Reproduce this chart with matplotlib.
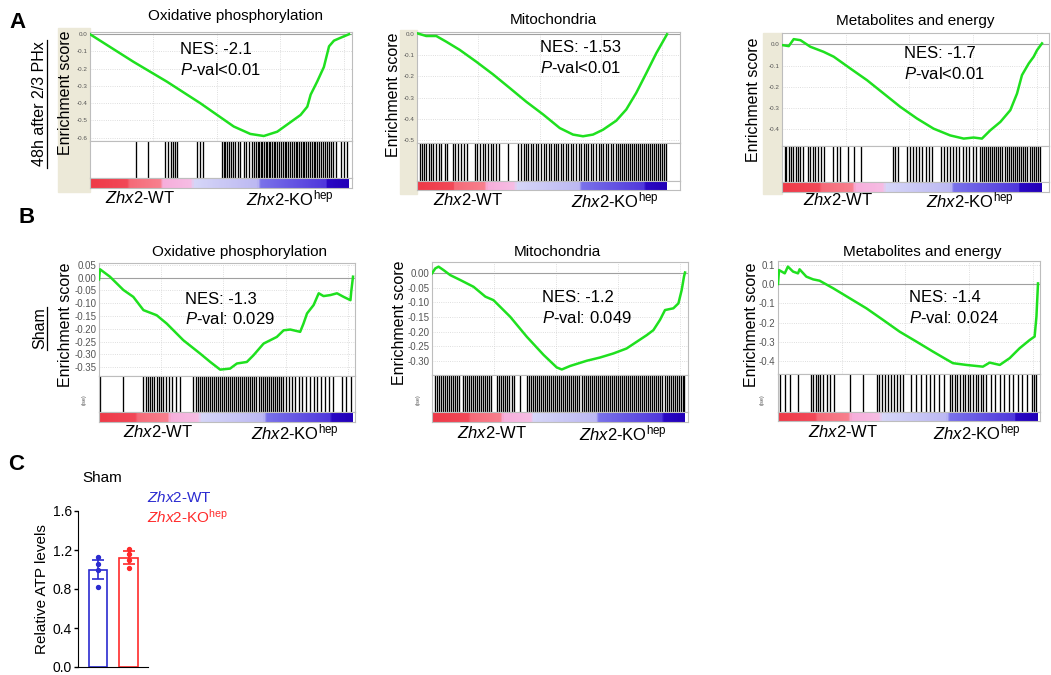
import numpy as np
import matplotlib
matplotlib.use('Agg')
import matplotlib.pyplot as plt
from matplotlib.colors import LinearSegmentedColormap
from matplotlib.patches import Rectangle
from matplotlib.lines import Line2D
from matplotlib.ticker import FormatStrFormatter

plt.rcParams['font.family'] = 'Liberation Sans'
plt.rcParams['mathtext.fontset'] = 'custom'
plt.rcParams['mathtext.rm'] = 'Liberation Sans'
plt.rcParams['mathtext.it'] = 'Liberation Sans:italic'

W, H = 1051, 675

# --- running enrichment score curves (x = % of ranked list) ---
a1_x = [0, 16.8, 29.7, 42.6, 55.5, 61.9, 67.1, 72.3, 77.4, 81.3, 83.9, 85.2, 87.7, 90.3, 92.3, 94.2, 96.8, 100]
a1_es = [0.0, -0.16, -0.275, -0.40, -0.535, -0.578, -0.59, -0.565, -0.51, -0.468, -0.42, -0.35, -0.275, -0.19,
         -0.07, -0.037, -0.02, 0.0]

a2_x = [0, 3.7, 7.7, 11.7, 17.1, 23.7, 30.4, 37.1, 43.7, 50.4, 57.1, 62.4, 66.4, 70.4, 74.4, 79.7, 83.7, 87.7,
        91.7, 95.7, 100]
a2_es = [0.005, -0.008, -0.008, -0.035, -0.074, -0.13, -0.19, -0.255, -0.32, -0.38, -0.445, -0.476, -0.484,
         -0.476, -0.453, -0.41, -0.357, -0.278, -0.185, -0.09, 0.0]

a3_x = [0, 2.6, 4.5, 7.1, 10.9, 16.0, 19.9, 26.3, 32.7, 39.1, 45.5, 51.9, 58.3, 64.7, 69.9, 73.7, 76.9, 80.1,
        84.0, 87.8, 90.4, 92.3, 94.9, 96.8, 98.1, 100]
a3_es = [-0.003, -0.008, 0.025, 0.02, -0.011, -0.035, -0.058, -0.114, -0.169, -0.232, -0.295, -0.35, -0.398,
         -0.43, -0.445, -0.44, -0.445, -0.406, -0.366, -0.311, -0.232, -0.145, -0.09, -0.058, -0.027, 0.005]

b1_x = [0, 0.4, 4.3, 9.6, 13.5, 17.5, 22.7, 26.7, 33.2, 39.8, 43.8, 47.7, 51.6, 54.3, 58.2, 60.8, 64.8, 70.0,
        72.7, 75.3, 79.2, 80.5, 81.9, 84.5, 86.5, 88.4, 91.1, 93.7, 96.3, 99.0, 99.3, 100]
b1_es = [-0.007, 0.033, 0.004, -0.048, -0.075, -0.127, -0.147, -0.18, -0.245, -0.297, -0.33, -0.36, -0.356,
         -0.336, -0.33, -0.304, -0.258, -0.232, -0.206, -0.203, -0.212, -0.18, -0.14, -0.107, -0.061, -0.072,
         -0.068, -0.061, -0.075, -0.088, -0.055, 0.004]

b2_x = [0, 1.3, 2.6, 4.6, 7.2, 11.2, 16.4, 21.1, 24.3, 30.9, 37.5, 44.1, 49.3, 51.3, 54.6, 61.2, 66.4, 71.7,
        76.9, 80.9, 84.9, 87.5, 90.1, 92.1, 95.4, 97.4, 98.7, 99.6, 100]
b2_es = [0.0, 0.017, 0.023, 0.011, -0.006, -0.023, -0.046, -0.08, -0.092, -0.149, -0.218, -0.28, -0.323, -0.33,
         -0.318, -0.30, -0.289, -0.275, -0.258, -0.235, -0.212, -0.195, -0.16, -0.126, -0.12, -0.103, -0.057,
         -0.011, 0.003]

b3_x = [0, 0.4, 2.6, 3.8, 5.8, 7.7, 8.3, 10.9, 13.5, 16.0, 21.2, 27.6, 34.0, 40.4, 46.8, 53.2, 59.6, 64.7,
        67.3, 72.4, 78.8, 81.4, 85.3, 89.1, 92.9, 96.8, 98.7, 99.4, 100]
b3_es = [0.0, 0.072, 0.055, 0.09, 0.064, 0.055, 0.076, 0.038, 0.024, 0.017, -0.022, -0.074, -0.126, -0.186,
         -0.247, -0.298, -0.35, -0.39, -0.41, -0.419, -0.428, -0.407, -0.419, -0.384, -0.333, -0.29, -0.272,
         -0.169, 0.003]

# --- gene set hits (% of ranked list) ---
a1_hits = [17.7, 22.3, 28.8, 30.3, 31.2, 32.0, 32.9, 33.7, 41.3, 42.3, 43.5, 51.0, 51.6, 52.2, 52.9, 53.5, 54.4,
           55.2, 56.0, 57.1, 58.0, 59.3, 60.2, 61.5, 62.6, 63.5, 64.2, 64.8, 65.4, 66.0, 66.6, 67.2, 67.8, 68.4,
           69.0, 69.6, 70.3, 71.0, 71.6, 72.3, 73.0, 73.6, 74.4, 75.1, 75.8, 76.5, 77.2, 78.0, 78.7, 79.4, 80.0,
           80.7, 81.4, 82.1, 82.8, 83.5, 84.2, 84.9, 85.6, 86.3, 87.0, 87.7, 88.5, 89.2, 89.9, 90.7, 91.5, 92.3,
           93.1, 94.0, 94.8, 96.8, 98.1, 99.4]
a2_hits = [1.0, 1.8, 2.6, 3.5, 4.6, 5.4, 6.5, 7.4, 8.6, 9.5, 11.0, 12.0, 14.2, 15.1, 16.3, 17.5, 18.6, 20.0,
           23.0, 24.1, 25.0, 26.2, 27.0, 28.3, 29.5, 30.5, 31.6, 32.8, 36.5, 40.5, 41.5, 42.6, 43.4, 44.5, 45.6,
           46.4, 47.5, 48.5, 49.4, 50.6, 51.5, 52.6, 53.5, 54.6, 55.4, 56.5, 57.6, 58.5, 59.6, 60.5, 61.6, 62.5,
           63.5, 64.6, 65.5, 66.6, 67.5, 68.4, 69.6, 70.5, 71.5, 72.6, 73.4, 74.5, 75.6, 76.5, 77.5, 78.5, 79.5,
           80.4, 81.2, 82.0, 82.8, 83.6, 84.4, 85.2, 86.0, 86.8, 87.6, 88.4, 89.2, 90.0, 90.8, 91.6, 92.4, 93.2,
           94.0, 94.8, 95.6, 96.4, 97.2, 98.0, 98.8, 99.6]
a3_hits = [1.0, 1.7, 2.5, 3.4, 4.3, 5.3, 6.2, 7.1, 8.0, 10.0, 10.9, 11.8, 12.8, 13.9, 15.0, 16.3, 19.8, 21.0,
           22.2, 25.5, 27.8, 30.3, 42.5, 43.6, 44.8, 48.0, 49.2, 50.4, 51.5, 52.8, 54.0, 55.2, 56.5, 57.8, 61.0,
           62.2, 63.3, 64.5, 65.7, 67.0, 68.2, 69.5, 70.7, 72.0, 73.3, 74.6, 76.0, 76.8, 77.6, 78.4, 79.2, 80.0,
           80.8, 81.6, 82.4, 83.2, 84.0, 84.8, 85.6, 86.4, 87.2, 88.0, 88.8, 89.6, 90.4, 91.2, 92.0, 92.8, 93.6,
           94.4, 95.2, 96.0, 96.8, 97.6, 98.4, 99.2]
b1_hits = [0.4, 9.6, 17.5, 18.4, 19.2, 20.1, 21.0, 21.8, 22.7, 23.6, 24.5, 25.3, 26.2, 27.5, 28.8, 30.3, 31.8,
           37.2, 38.0, 38.8, 39.6, 40.4, 41.2, 42.0, 42.8, 43.6, 44.4, 45.2, 46.0, 46.8, 47.6, 48.4, 49.2, 50.0,
           50.8, 51.6, 52.4, 53.2, 54.0, 54.8, 55.6, 56.4, 57.2, 58.0, 58.8, 59.6, 60.4, 61.2, 62.0, 62.8, 63.6,
           64.4, 65.2, 66.0, 66.8, 67.6, 68.4, 69.2, 70.0, 70.8, 71.6, 72.4, 73.5, 74.8, 76.0, 77.3, 78.6, 80.0,
           81.5, 83.0, 84.5, 86.0, 87.5, 89.0, 90.5, 92.0, 95.5, 97.4, 99.3]
b2_hits = [1.0, 1.8, 2.6, 3.4, 4.2, 5.0, 5.8, 6.6, 7.4, 8.2, 9.0, 9.8, 10.6, 12.3, 13.1, 13.9, 14.7, 15.5, 16.3,
           17.1, 17.9, 18.7, 19.5, 20.3, 21.1, 21.9, 22.7, 23.5, 25.5, 26.3, 27.1, 27.9, 28.7, 29.5, 30.5, 31.5,
           32.5, 34.8, 37.5, 38.3, 39.1, 39.9, 40.7, 41.5, 42.3, 43.1, 43.9, 44.7, 45.5, 46.3, 47.1, 47.9, 48.7,
           49.5, 50.3, 51.1, 51.9, 52.7, 53.5, 54.3, 55.1, 55.9, 56.7, 57.5, 58.3, 59.1, 59.9, 60.7, 61.5, 62.3,
           63.1, 63.9, 64.7, 65.5, 66.3, 67.1, 67.9, 68.7, 69.5, 70.3, 71.1, 71.9, 72.7, 73.5, 74.3, 75.1, 75.9,
           76.7, 77.5, 78.3, 79.1, 79.9, 80.7, 81.5, 82.3, 83.1, 83.9, 84.7, 85.5, 86.3, 87.1, 87.9, 88.7, 89.5,
           90.3, 91.1, 91.9, 92.7, 93.5, 94.3, 95.1, 95.9, 96.7, 97.5, 98.3, 99.1, 99.8]
b3_hits = [0.6, 2.6, 4.5, 7.7, 12.8, 13.6, 14.5, 15.4, 16.2, 17.3, 18.8, 20.0, 21.4, 27.5, 32.5, 38.0, 39.0,
           40.0, 41.2, 42.3, 43.5, 44.6, 45.8, 47.0, 48.2, 51.0, 53.0, 55.0, 57.0, 58.5, 60.0, 62.0, 64.0, 66.0,
           67.0, 68.0, 69.0, 70.0, 71.0, 72.0, 73.0, 74.0, 75.0, 76.0, 77.0, 78.0, 79.0, 80.0, 81.8, 83.5, 85.2,
           87.0, 88.8, 90.5, 92.3, 94.0, 95.8, 97.5, 98.5, 99.3]

titles = ['Oxidative phosphorylation', 'Mitochondria', 'Metabolites and energy']
a_nes = ['-2.1', '-1.53', '-1.7']
a_pval = ['<0.01', '<0.01', '<0.01']
b_nes = ['-1.3', '-1.2', '-1.4']
b_pval = [': 0.029', ': 0.049', ': 0.024']

# --- panel C: relative ATP levels (Sham) ---
groups = ['Zhx2-WT', 'Zhx2-KOhep']
atp_mean = [1.00, 1.12]
atp_sem = [0.097, 0.065]
atp_wt = [1.13, 1.06, 0.99, 0.82]
atp_ko = [1.21, 1.16, 1.10, 1.02]

WT_LABEL = r'$\mathit{Zhx2}$-WT'
KO_LABEL = r'$\mathit{Zhx2}$-KO$^{\mathrm{hep}}$'
GREEN = '#1fe01f'
BLUE = '#2b2bd0'
RED = '#ff2a2a'
BEIGE = '#ece9d8'

fig = plt.figure(figsize=(W / 100, H / 100), dpi=100)


def px_ax(x0, y0, x1, y1):
    return fig.add_axes([x0 / W, 1 - y1 / H, (x1 - x0) / W, (y1 - y0) / H])


def px_text(x, y, s, **kw):
    return fig.text(x / W, 1 - y / H, s, **kw)


rank_cmap = LinearSegmentedColormap.from_list('rank', [
    (0.0, '#ee3a48'), (0.14, '#f24858'), (0.15, '#f56a78'), (0.27, '#f8808e'),
    (0.28, '#f7aedb'), (0.39, '#f6bde4'), (0.40, '#d6d6f8'), (0.65, '#bcb8f2'),
    (0.66, '#7a72ea'), (0.91, '#5038dc'), (0.92, '#2a08c4'), (1.0, '#2200b8')])
grad = np.linspace(0, 1, 300).reshape(1, -1)


def draw_gsea(xs, es, hits, box, ylim, ystep, fmt, tfs):
    left, end, right, top, es_bot, hit_bot, cb_bot = box
    xmax = 100 * (right - left) / (end - left)
    ax = px_ax(left, top, right, es_bot)
    ax.plot(xs, es, color=GREEN, lw=1.8, zorder=3)
    ax.axhline(0, color='#a0a0a0', lw=0.8)
    ax.set_xlim(0, xmax)
    ax.set_ylim(*ylim)
    ax.yaxis.set_major_locator(plt.MultipleLocator(ystep))
    ax.yaxis.set_major_formatter(FormatStrFormatter(fmt))
    ax.set_xticks([24.5, 49, 73.5, 98])
    ax.tick_params(length=0, pad=2, labelbottom=False, labelsize=tfs, labelcolor='#555555')
    ax.grid(True, color='#d4d4d4', lw=0.6, ls=':')
    for s in ax.spines.values():
        s.set_color('#bdbdbd')
        s.set_linewidth(0.8)

    hx = px_ax(left, es_bot, right, hit_bot)
    hx.vlines(hits, 0, 1, color='black', lw=0.95)
    hx.set_xlim(0, xmax)
    hx.set_ylim(0, 1)
    hx.set_xticks([])
    hx.set_yticks([])
    for s in hx.spines.values():
        s.set_color('#bdbdbd')
        s.set_linewidth(0.8)

    cx = px_ax(left, hit_bot, right, cb_bot)
    cx.imshow(grad, aspect='auto', cmap=rank_cmap, extent=(0, 100, 0, 1), interpolation='nearest')
    cx.set_xlim(0, xmax)
    cx.set_ylim(0, 1)
    cx.set_xticks([])
    cx.set_yticks([])
    for s in cx.spines.values():
        s.set_color('#bdbdbd')
        s.set_linewidth(0.8)


# beige strips of the GSEA desktop panels (row A)
for x0, y0, x1, y1 in [(58, 28, 90, 192), (400, 30, 417, 194), (763, 33, 782, 194)]:
    fig.add_artist(Rectangle((x0 / W, 1 - y1 / H), (x1 - x0) / W, (y1 - y0) / H,
                             transform=fig.transFigure, color=BEIGE, zorder=0))

# row A
draw_gsea(a1_x, a1_es, a1_hits, (90, 349, 352, 32, 141, 178, 188), (-0.619, 0.013), 0.1, '%.1f', 4.5)
draw_gsea(a2_x, a2_es, a2_hits, (417, 667, 680, 32, 143, 181, 190), (-0.516, 0.011), 0.1, '%.1f', 4.5)
draw_gsea(a3_x, a3_es, a3_hits, (782, 1042, 1049, 33, 146, 182, 192), (-0.48, 0.054), 0.1, '%.1f', 4.5)
# row B
draw_gsea(b1_x, b1_es, b1_hits, (99, 353, 355, 263, 376, 412, 422), (-0.385, 0.0576), 0.05, '%.2f', 7)
draw_gsea(b2_x, b2_es, b2_hits, (432, 685, 688, 262, 375, 412, 422), (-0.349, 0.039), 0.05, '%.2f', 7)
draw_gsea(b3_x, b3_es, b3_hits, (778, 1038, 1040, 261, 374, 412, 421), (-0.466, 0.119), 0.1, '%.1f', 7)

title_pos = [(235, 16), (553, 20), (915, 21), (240, 252), (557, 252), (922, 252)]
nes_pos = [(180, 50), (540, 48), (904, 54), (185, 299), (542, 298), (909, 298)]
es_lab_pos = [(65, 93), (393, 95), (753, 100), (65, 325), (399, 323), (752, 325)]
grp_pos = [(140, 290, 198), (468, 615, 200), (838, 970, 200), (158, 295, 432), (492, 623, 433), (843, 977, 432)]
nes_all = a_nes + b_nes
pval_all = a_pval + b_pval

for i in range(6):
    tx, ty = title_pos[i]
    px_text(tx, ty, titles[i % 3], fontsize=11, ha='center', va='center')
    nx, ny = nes_pos[i]
    px_text(nx, ny, 'NES: ' + nes_all[i], fontsize=12, ha='left', va='center')
    px_text(nx, ny + 20, r'$\mathit{P}$-val' + pval_all[i], fontsize=12, ha='left', va='center')
    ex, ey = es_lab_pos[i]
    px_text(ex, ey, 'Enrichment score', fontsize=11.5, rotation=90, ha='center', va='center')
    gx1, gx2, gy = grp_pos[i]
    px_text(gx1, gy, WT_LABEL, fontsize=12, ha='center', va='center')
    px_text(gx2, gy, KO_LABEL, fontsize=12, ha='center', va='center')

for x in [84, 418, 762]:
    px_text(x, 400, '(ise)', fontsize=4, rotation=90, ha='center', va='center', color='#555555')

# row labels (underlined)
px_text(40, 104, '48h after 2/3 PHx', fontsize=11.5, rotation=90, ha='center', va='center')
fig.add_artist(Line2D([47 / W, 47 / W], [1 - 40 / H, 1 - 168 / H], color='black', lw=0.9))
px_text(40, 328, 'Sham', fontsize=11.5, rotation=90, ha='center', va='center')
fig.add_artist(Line2D([47 / W, 47 / W], [1 - 307 / H, 1 - 350 / H], color='black', lw=0.9))

px_text(18, 22, 'A', fontsize=16, fontweight='bold', ha='center', va='center')
px_text(27, 218, 'B', fontsize=16, fontweight='bold', ha='center', va='center')
px_text(16, 465, 'C', fontsize=16, fontweight='bold', ha='center', va='center')

# panel C bar chart
axc = px_ax(78, 511, 148, 667)
colors = [BLUE, RED]
points = [atp_wt, atp_ko]
for i in range(2):
    axc.bar(i, atp_mean[i], width=0.6, facecolor='white', edgecolor=colors[i], lw=1.2, zorder=1)
    axc.errorbar(i, atp_mean[i], yerr=atp_sem[i], color=colors[i], capsize=4, capthick=1.2, lw=1.2, zorder=2)
    axc.scatter([i] * len(points[i]), points[i], s=8, color=colors[i], zorder=3)
axc.set_xlim(-0.66, 1.64)
axc.set_ylim(0, 1.6)
axc.set_yticks([0.0, 0.4, 0.8, 1.2, 1.6])
axc.yaxis.set_major_formatter(FormatStrFormatter('%.1f'))
axc.set_xticks([])
axc.spines['top'].set_visible(False)
axc.spines['right'].set_visible(False)
axc.tick_params(axis='y', length=3, width=1, pad=1.5, labelsize=10)
px_text(42, 589, 'Relative ATP levels', fontsize=11, rotation=90, ha='center', va='center')
px_text(102, 478, 'Sham', fontsize=11, ha='center', va='center')
px_text(147, 498, WT_LABEL, fontsize=11, color=BLUE, ha='left', va='center')
px_text(147, 517, KO_LABEL, fontsize=11, color=RED, ha='left', va='center')

fig.savefig('out.png', dpi=100)
